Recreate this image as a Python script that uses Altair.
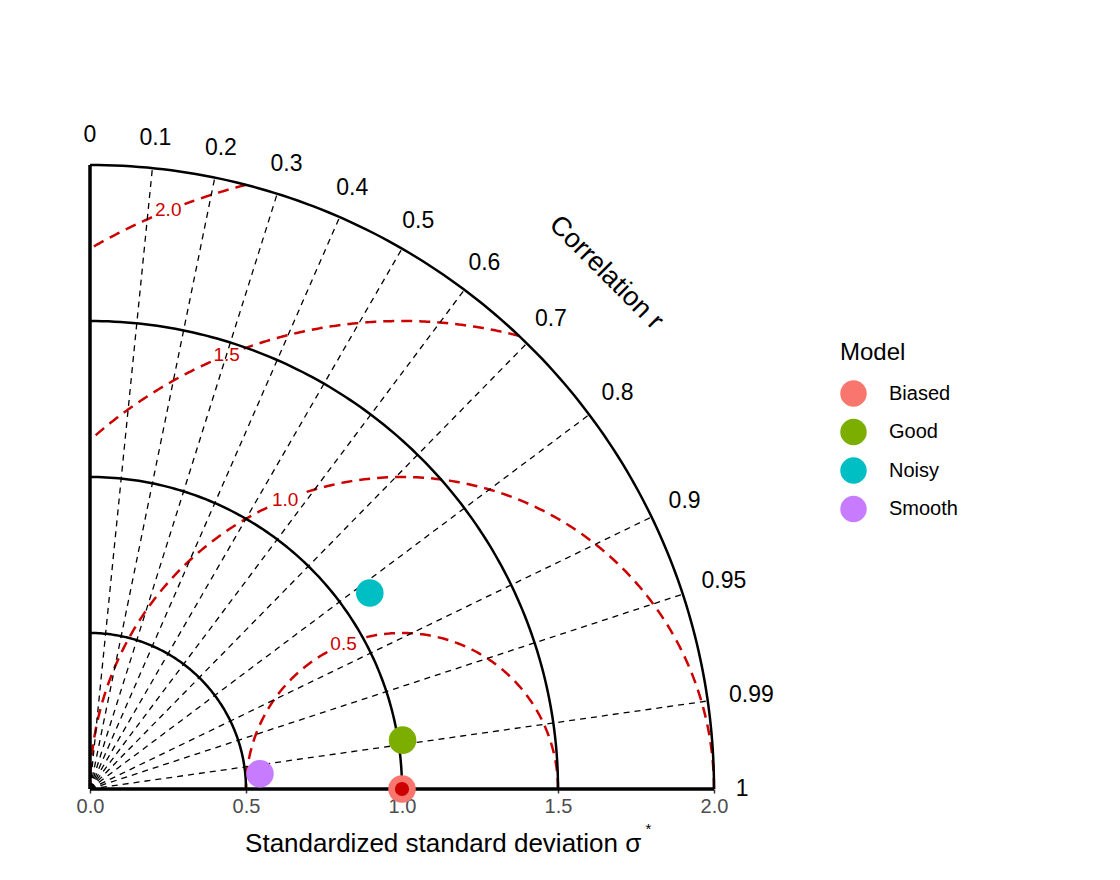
import altair as alt
import numpy as np
import pandas as pd

# model summary (standardized sd, correlation with the reference)
models = ["Biased", "Good", "Noisy", "Smooth"]
model_sd = [1.0, 1.014, 1.095, 0.547]
model_r = [1.0, 0.988, 0.819, 0.996]
model_colors = ["#F8766D", "#7CAE00", "#00BFC4", "#C77CFF"]

# reference (observations)
ref_sd = 1.0

# diagram scaffolding
sd_max = 2.0
sd_circles = [0.5, 1.0, 1.5, 2.0]
rms_circles = [0.5, 1.0, 1.5, 2.0]
rms_labels = ["0.5", "1.0", "1.5", "2.0"]
cor_ticks = [0, 0.1, 0.2, 0.3, 0.4, 0.5, 0.6, 0.7, 0.8, 0.9, 0.95, 0.99, 1]
cor_labels = ["0", "0.1", "0.2", "0.3", "0.4", "0.5", "0.6", "0.7", "0.8",
              "0.9", "0.95", "0.99", "1"]
x_ticks = [0, 0.5, 1.0, 1.5, 2.0]
x_title = "Standardized standard deviation σ"

RED = "#CD0000"
FONT = "Liberation Sans"
PX = 624 / sd_max  # pixels per unit

# --- points
pts = pd.DataFrame({"Model": models, "sd": model_sd, "r": model_r})
pts["x"] = pts["sd"] * pts["r"]
pts["y"] = pts["sd"] * np.sqrt(1 - pts["r"] ** 2)

ref = pd.DataFrame({"x": [ref_sd], "y": [0.0]})

# --- sd arcs (black solid)
rows = []
for s in sd_circles:
    for i, t in enumerate(np.linspace(0, np.pi / 2, 121)):
        rows.append({"c": s, "i": i, "x": s * np.cos(t), "y": s * np.sin(t)})
sd_arcs = pd.DataFrame(rows)

# --- centred RMS arcs (red dashed), clipped to the quarter disc
t_lab = np.deg2rad(112)
rows, lab_rows = [], []
for R, lab in zip(rms_circles, rms_labels):
    lo = np.arccos(min(1.0, (3 - R ** 2) / (2 * R)))
    hi = np.arccos(max(-1.0, -1.0 / R))
    xl, yl = ref_sd + R * np.cos(t_lab), R * np.sin(t_lab)
    lab_rows.append({"x": xl, "y": yl, "label": lab})
    for i, t in enumerate(np.linspace(lo, hi, 300)):
        x, y = ref_sd + R * np.cos(t), R * np.sin(t)
        if np.hypot(x - xl, y - yl) < 0.055:
            continue
        rows.append({"seg": f"{R}-{t < t_lab}", "i": i, "x": x, "y": y})
rms_arcs = pd.DataFrame(rows)
rms_labs = pd.DataFrame(lab_rows)

# --- correlation rays and labels
rays = pd.DataFrame({"r": cor_ticks[1:-1]})
rays["x0"] = 0.0
rays["y0"] = 0.0
rays["x1"] = sd_max * rays["r"]
rays["y1"] = sd_max * np.sqrt(1 - rays["r"] ** 2)

cl = pd.DataFrame({"r": cor_ticks, "label": cor_labels})
th = np.arccos(cl["r"])
w = cl["label"].apply(lambda s: 23 * (0.556 * sum(c.isdigit() for c in s) + 0.278 * s.count(".")))
rad = 2.07 + np.sqrt((w / 2 * np.cos(th)) ** 2 + (8 * np.sin(th)) ** 2) / PX
cl["x"] = rad * np.cos(th)
cl["y"] = rad * np.sin(th)

corr_title = pd.DataFrame({"x": [2.34 * np.cos(np.pi / 4)], "y": [2.34 * np.sin(np.pi / 4)],
                           "label": ["Correlation r"]})
xtitle = pd.DataFrame({"x": [1.132], "y": [-0.202], "label": [x_title]})
star = pd.DataFrame({"x": [1.79], "y": [-0.128], "label": ["*"]})

axes_lines = pd.DataFrame({"x0": [0.0, 0.0], "y0": [0.0, 0.0],
                           "x1": [0.0, sd_max], "y1": [sd_max, 0.0]})

xs = alt.Scale(domain=[0, sd_max], nice=False, zero=False)
ys = alt.Scale(domain=[0, sd_max], nice=False, zero=False)
xax = alt.Axis(values=x_ticks, format=".1f", domain=False, grid=False,
               labelColor="#4D4D4D", labelFontSize=20, labelPadding=3,
               labelFlush=False, labelOverlap=False,
               tickColor="#333333", tickSize=4, tickWidth=1.5, title=None)

rms_layer = alt.Chart(rms_arcs).mark_line(
    color=RED, strokeWidth=2.5, strokeDash=[11, 7]
).encode(x=alt.X("x:Q", scale=xs, axis=xax), y=alt.Y("y:Q", scale=ys, axis=None),
         detail="seg:N", order="i:Q")

ray_layer = alt.Chart(rays).mark_rule(
    color="black", strokeWidth=1.3, strokeDash=[6, 5]
).encode(x="x0:Q", y="y0:Q", x2="x1:Q", y2="y1:Q")

sd_layer = alt.Chart(sd_arcs).mark_line(color="black", strokeWidth=2.5).encode(
    x="x:Q", y="y:Q", detail="c:N", order="i:Q")

axis_layer = alt.Chart(axes_lines).mark_rule(color="black", strokeWidth=3.5).encode(
    x="x0:Q", y="y0:Q", x2="x1:Q", y2="y1:Q")

rms_text = alt.Chart(rms_labs).mark_text(color=RED, fontSize=19, font=FONT).encode(
    x="x:Q", y="y:Q", text="label:N")

cor_text = alt.Chart(cl).mark_text(color="black", fontSize=23, font=FONT).encode(
    x="x:Q", y="y:Q", text="label:N")

cor_title = alt.Chart(corr_title).mark_text(
    color="black", fontSize=27, font=FONT, angle=45
).encode(x="x:Q", y="y:Q", text="label:N")

title_text = alt.Chart(xtitle).mark_text(
    color="black", fontSize=26, font=FONT, baseline="alphabetic"
).encode(x="x:Q", y="y:Q", text="label:N")

star_text = alt.Chart(star).mark_text(color="black", fontSize=15, font=FONT).encode(
    x="x:Q", y="y:Q", text="label:N")

point_layer = alt.Chart(pts).mark_circle(size=760, opacity=1).encode(
    x="x:Q", y="y:Q",
    color=alt.Color("Model:N", scale=alt.Scale(domain=models, range=model_colors),
                    legend=alt.Legend(title="Model", orient="none", legendX=750,
                                      legendY=176, symbolType="circle",
                                      symbolSize=700, symbolOpacity=1,
                                      symbolStrokeWidth=0, titleFontSize=24,
                                      titleFontWeight="normal", labelFontSize=20,
                                      labelOffset=22, rowPadding=11.5,
                                      titlePadding=15, padding=0)),
)

ref_layer = alt.Chart(ref).mark_circle(size=200, color=RED, opacity=1).encode(
    x="x:Q", y="y:Q")

chart = alt.layer(
    rms_layer, ray_layer, sd_layer, axis_layer, rms_text, cor_text,
    cor_title, title_text, star_text, point_layer, ref_layer
).properties(
    width=624, height=624,
    autosize=alt.AutoSizeParams(type="none"),
    padding={"left": 82, "top": 157, "right": 380, "bottom": 80},
).configure(font=FONT).configure_view(stroke=None)

chart.save("out.html", embed_options={"renderer": "svg", "actions": False})
